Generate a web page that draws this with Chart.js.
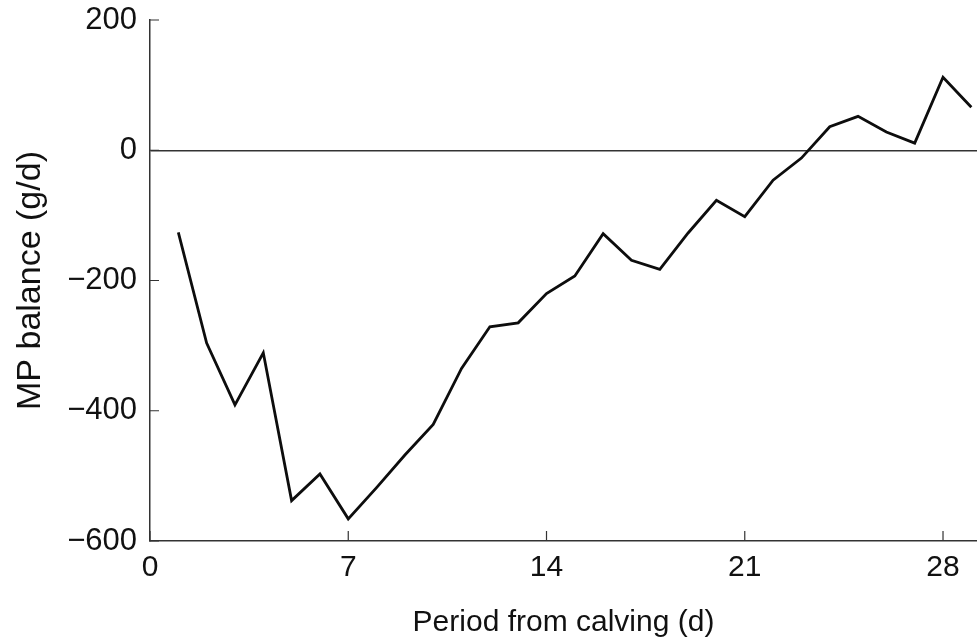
<!DOCTYPE html>
<html>
<head>
<meta charset="utf-8">
<script src="https://cdn.jsdelivr.net/npm/chart.js@4.4.1/dist/chart.umd.min.js"></script>
<style>
  html, body { margin: 0; padding: 0; background: #fff; }
  #wrap { width: 977px; height: 641px; position: relative; }
</style>
</head>
<body>
<div id="wrap"><canvas id="mpChart"></canvas></div>
<script>
// days after calving and MP balance (g/d)
const days = [1, 2, 3, 4, 5, 6, 7, 8, 9, 10, 11, 12, 13, 14, 15, 16, 17, 18, 19, 20, 21, 22, 23, 24, 25, 26, 27, 28, 29];
const mpBalance = [-126, -296, -391, -311, -538, -497, -566, -518, -468, -421, -335, -271, -265, -220, -193, -128, -169, -183, -127, -77, -102, -46, -12, 36, 52, 28, 11, 112, 66];

const xTicks = [0, 7, 14, 21, 28];
const yTicks = [-600, -400, -200, 0, 200];

const FONT = '"Liberation Sans", Arial, sans-serif';
const INK = '#111';

// short tick marks pointing into the plot, like the original
const innerTicks = {
  id: 'innerTicks',
  afterDraw(chart) {
    const ctx = chart.ctx;
    const x = chart.scales.x, y = chart.scales.y;
    ctx.save();
    ctx.strokeStyle = '#333';
    ctx.lineWidth = 1.2;
    ctx.beginPath();
    x.ticks.forEach(t => {
      const px = x.getPixelForValue(t.value);
      ctx.moveTo(px, y.bottom);
      ctx.lineTo(px, y.bottom - 10);
    });
    y.ticks.forEach(t => {
      const py = y.getPixelForValue(t.value);
      ctx.moveTo(x.left, py);
      ctx.lineTo(x.left + 9, py);
    });
    ctx.stroke();
    ctx.restore();
  }
};

new Chart(document.getElementById('mpChart').getContext('2d'), {
  type: 'line',
  data: {
    datasets: [{
      data: days.map((d, i) => ({ x: d, y: mpBalance[i] })),
      borderColor: '#0d0d0d',
      borderWidth: 2.8,
      pointRadius: 0,
      tension: 0,
      fill: false
    }]
  },
  options: {
    responsive: true,
    maintainAspectRatio: false,
    animation: false,
    layout: { padding: { top: 20, right: 0, left: 0, bottom: 0 } },
    plugins: { legend: { display: false }, tooltip: { enabled: false } },
    scales: {
      x: {
        type: 'linear',
        min: 0,
        max: 29.2,
        afterBuildTicks: s => { s.ticks = xTicks.map(v => ({ value: v })); },
        afterFit: s => { s.height = 100; s.paddingLeft = 0; s.paddingRight = 0; },
        grid: { display: false },
        border: { display: true, color: '#333', width: 1.5 },
        ticks: { color: INK, font: { family: FONT, size: 30 }, padding: 1, maxRotation: 0 },
        title: { display: true, text: 'Period from calving (d)', color: INK, font: { family: FONT, size: 30 }, padding: { top: 26, bottom: 0 } }
      },
      y: {
        min: -600,
        max: 200,
        afterBuildTicks: s => { s.ticks = yTicks.map(v => ({ value: v })); },
        afterFit: s => { s.width = 150; s.paddingTop = 0; s.paddingBottom = 0; },
        grid: {
          drawTicks: false,
          color: c => (c.tick && c.tick.value === 0) ? '#333' : 'rgba(0,0,0,0)',
          lineWidth: 1.5
        },
        border: { display: true, color: '#333', width: 1.5 },
        ticks: {
          color: INK,
          font: { family: FONT, size: 31 },
          padding: 13,
          callback: v => (v < 0 ? '\u2212' + Math.abs(v) : String(v))
        },
        title: { display: true, text: 'MP balance (g/d)', color: INK, font: { family: FONT, size: 34 }, padding: { top: 10, bottom: 0 } }
      }
    }
  },
  plugins: [innerTicks]
});
</script>
</body>
</html>
